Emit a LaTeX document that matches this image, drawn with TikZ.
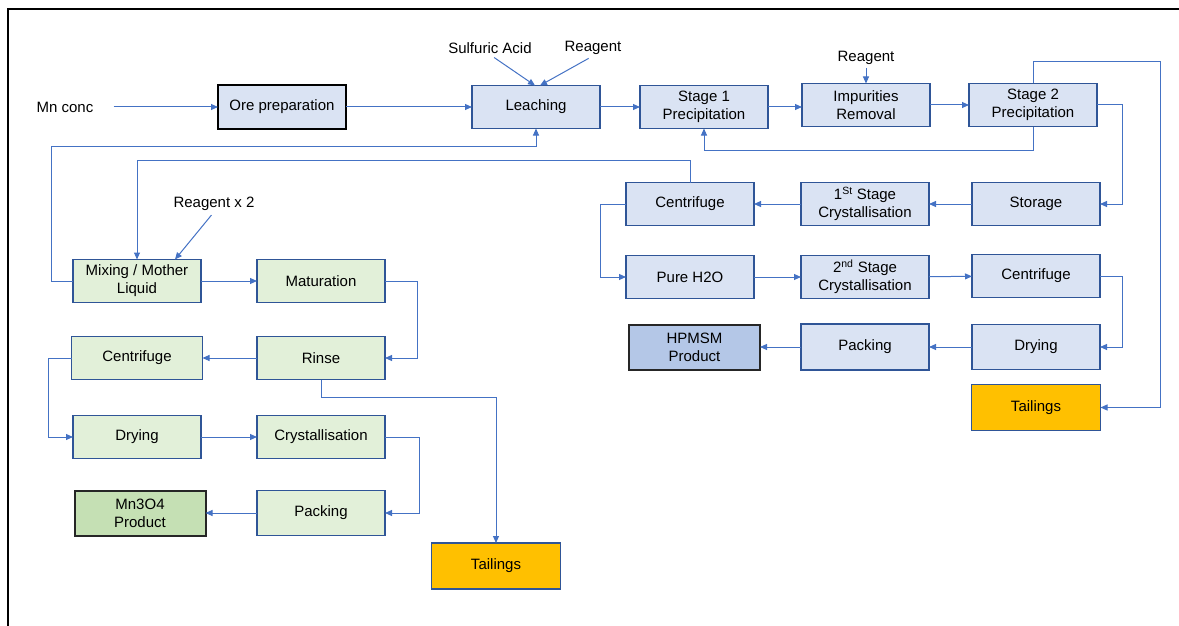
\documentclass[tikz,border=0pt]{standalone}
\usepackage{fontspec}
\setmainfont{Liberation Sans}
\usepackage{tikz}
\usetikzlibrary{arrows.meta, positioning}
\definecolor{BoxBlue}{HTML}{DAE3F3}
\definecolor{BoxGreen}{HTML}{E2F0D9}
\definecolor{EdgeBlue}{HTML}{2F5597}
\definecolor{LineBlue}{HTML}{4472C4}
\definecolor{TailGold}{HTML}{FFC000}
\definecolor{ProdBlue}{HTML}{B4C7E7}
\definecolor{ProdGreen}{HTML}{C5E0B4}
\tikzset{
  procbox/.style={rectangle, draw=EdgeBlue, line width=1.5pt, fill=BoxBlue, minimum width=128pt, minimum height=43pt, inner sep=2pt, outer sep=0pt, align=center, font=\fontsize{15}{18}\selectfont},
  greenbox/.style={procbox, fill=BoxGreen},
  prodbox/.style={procbox, draw=black!85, line width=2pt, minimum width=131pt, minimum height=45pt},
  tailbox/.style={procbox, fill=TailGold, minimum width=129pt, minimum height=46pt},
  notetext/.style={font=\fontsize{15}{18}\selectfont, inner sep=1pt},
  flowarrow/.style={-{Triangle[length=7pt, width=6pt]}, line width=1pt, LineBlue}
}
\begin{document}
\begin{tikzpicture}[x=1pt, y=-1pt]
  \useasboundingbox (0,0) rectangle (1179,626);
  \draw[line width=2pt] (8,626) -- (8,9) -- (1179,9);

  % leaching line
  \node[notetext] (mnconc) at (65,107) {Mn conc};
  \node[procbox, draw=black, line width=2pt] (ore) at (282,107) {Ore preparation};
  \node[procbox, right=126pt of ore] (leach) {Leaching};
  \node[procbox, right=40pt of leach] (stg1) {Stage 1\\Precipitation};
  \node[procbox, right=34pt of stg1, yshift=2pt] (impur) {Impurities\\Removal};
  \node[procbox, right=39pt of impur] (stg2) {Stage 2\\Precipitation};
  \node[notetext] (acid) at (490,48) {Sulfuric Acid};
  \node[notetext] (reagA) at (593,48) {Reagent};
  \node[notetext] (reagB) at (866,58) {Reagent};

  % HPMSM line
  \node[procbox] (stor) at (1036,204) {Storage};
  \node[procbox, left=43pt of stor] (cryst1) {1\textsuperscript{St} Stage\\Crystallisation};
  \node[procbox, left=47pt of cryst1] (cenA) {Centrifuge};
  \node[procbox, below=30pt of cenA] (pureh) {Pure H2O};
  \node[procbox, below=30pt of cryst1] (cryst2) {2\textsuperscript{nd} Stage\\Crystallisation};
  \node[procbox, below=29pt of stor] (cenB) {Centrifuge};
  \node[procbox, below=27pt of cenB, minimum height=45pt] (dryB) {Drying};
  \node[procbox, left=43pt of dryB, minimum height=46pt] (packB) {Packing};
  \node[prodbox, fill=ProdBlue, left=41pt of packB] (hpmsm) {HPMSM\\Product};
  \node[tailbox, below=15pt of dryB] (tailB) {Tailings};

  % Mn3O4 line
  \node[greenbox] (mixing) at (137,281) {Mixing / Mother\\Liquid};
  \node[notetext] (reagC) at (214,204) {Reagent x 2};
  \node[greenbox, right=56pt of mixing] (matur) {Maturation};
  \node[greenbox, below=34pt of matur] (rinse) {Rinse};
  \node[greenbox, below=34pt of mixing, minimum width=131pt] (cenL) {Centrifuge};
  \node[greenbox, below=36pt of cenL] (dryL) {Drying};
  \node[greenbox, below=36pt of rinse] (cryL) {Crystallisation};
  \node[greenbox, below=32pt of cryL, minimum height=45pt] (packL) {Packing};
  \node[prodbox, fill=ProdGreen, below=32pt of dryL, xshift=3pt] (mn3o4) {Mn3O4\\Product};
  \node[tailbox] (tailL) at (496,566) {Tailings};

  % connectors
  \draw[flowarrow, shorten <=19pt] (mnconc.east) -- (ore.west);
  \draw[flowarrow] (ore) -- (leach);
  \draw[flowarrow] (leach) -- (stg1);
  \draw[flowarrow] (stg1.east) -- (impur.west |- stg1.east);
  \draw[flowarrow] (impur) -- (stg2);
  \draw[flowarrow, shorten <=5pt] (acid.south) -- ([xshift=-1pt]leach.north);
  \draw[flowarrow, shorten <=5pt] (reagA.south) -- ([xshift=4pt]leach.north);
  \draw[flowarrow, shorten <=2pt] (reagB.south) -- (impur.north);
  \draw[flowarrow] (stg2.south) -- ++(0,24) -| (stg1.south);
  \draw[flowarrow] (stg2.east) -- ++(25,0) |- (stor.east);
  \draw[flowarrow] (stg2.north) -- ++(0,-22) -- ++(127,0) |- (tailB.east);

  \draw[flowarrow] (stor) -- (cryst1);
  \draw[flowarrow] (cryst1) -- (cenA);
  \draw[flowarrow] (cenA.west) -- ++(-26,0) |- (pureh.west);
  \draw[flowarrow] (pureh) -- (cryst2);
  \draw[flowarrow] (cryst2) -- (cenB);
  \draw[flowarrow] (cenB.east) -- ++(22,0) |- (dryB.east);
  \draw[flowarrow] (dryB) -- (packB);
  \draw[flowarrow] (packB) -- (hpmsm);

  \draw[flowarrow] (cenA.north) -- ++(0,-22) -| (mixing.north);
  \draw[flowarrow] (mixing.west) -- ++(-22,0) |- ([yshift=-18pt]leach.south) -- (leach.south);
  \draw[flowarrow, shorten <=4pt] (reagC.south) -- ([xshift=38pt]mixing.north);
  \draw[flowarrow] (mixing) -- (matur);
  \draw[flowarrow] (matur.east) -- ++(32,0) |- (rinse.east);
  \draw[flowarrow] (rinse) -- (cenL);
  \draw[flowarrow] (rinse.south) -- ++(0,18) -| (tailL.north);
  \draw[flowarrow] (cenL.west) -- ++(-23,0) |- (dryL.west);
  \draw[flowarrow] (dryL) -- (cryL);
  \draw[flowarrow] (cryL.east) -- ++(34,0) |- (packL.east);
  \draw[flowarrow] (packL) -- (mn3o4);
\end{tikzpicture}
\end{document}
